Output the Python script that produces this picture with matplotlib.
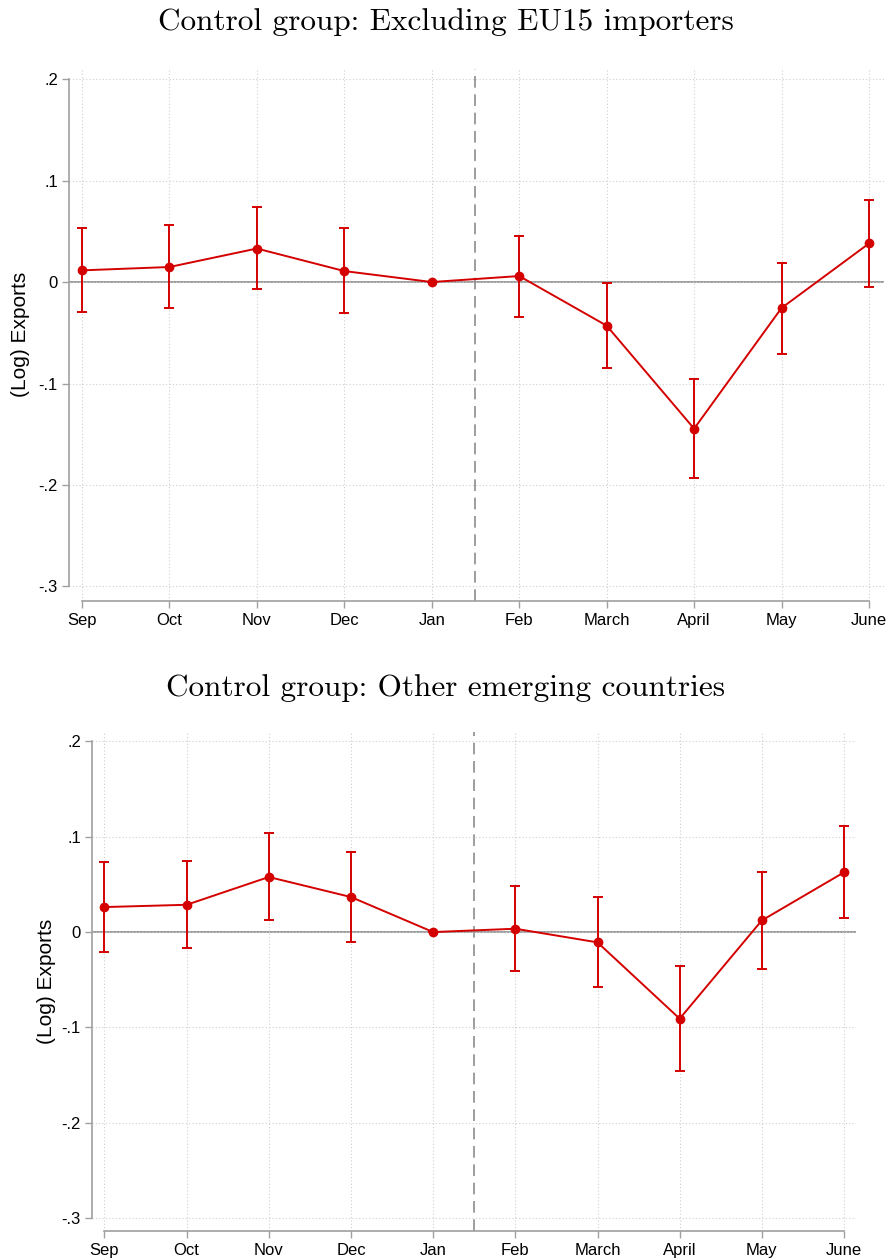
import numpy as np
import matplotlib.pyplot as plt

months = ["Sep", "Oct", "Nov", "Dec", "Jan", "Feb", "March", "April", "May", "June"]

# Control group: Excluding EU15 importers
eu_coef = [0.0115, 0.0148, 0.033, 0.0108, 0.0, 0.0059, -0.043, -0.1445, -0.0256, 0.038]
eu_hi = [0.0535, 0.0558, 0.074, 0.0529, 0.0, 0.0456, -0.0007, -0.0955, 0.019, 0.081]
eu_lo = [-0.030, -0.0256, -0.0072, -0.031, 0.0, -0.034, -0.085, -0.193, -0.071, -0.005]

# Control group: Other emerging countries
em_coef = [0.0262, 0.0286, 0.0577, 0.0367, 0.0, 0.0035, -0.0108, -0.0908, 0.0122, 0.0626]
em_hi = [0.073, 0.0744, 0.1034, 0.0835, 0.0, 0.0479, 0.0367, -0.0353, 0.0632, 0.1108]
em_lo = [-0.0213, -0.0164, 0.0126, -0.0101, 0.0, -0.0409, -0.0577, -0.1457, -0.0388, 0.015]

yticks = [-0.3, -0.2, -0.1, 0.0, 0.1, 0.2]
ytick_labels = ["-.3", "-.2", "-.1", "0", ".1", ".2"]

RED = "#d40000"
GRAY = "#8c8c8c"
W, H = 891, 1259

plt.rcParams['font.family'] = ['Liberation Sans', 'DejaVu Sans']


def panel(fig, box, coef, lo, hi, title, title_y, ylabel_x):
    left, right, top, bottom = box
    ax = fig.add_axes([left / W, 1 - bottom / H, (right - left) / W, (bottom - top) / H])
    x = np.arange(len(months))
    coef = np.array(coef)
    err = np.vstack([coef - np.array(lo), np.array(hi) - coef])

    ax.axhline(0, color=GRAY, lw=1.2, zorder=1)
    ax.axvline(4.5, color=GRAY, lw=1.2, ls=(0, (7, 4)), zorder=1)
    ax.errorbar(x, coef, yerr=err, color=RED, lw=1.4, marker="o", ms=6,
                capsize=3.5, capthick=1.4, elinewidth=1.4, zorder=3)

    ax.set_xticks(x)
    ax.set_xticklabels(months, fontsize=12)
    ax.set_yticks(yticks)
    ax.set_yticklabels(ytick_labels, fontsize=12)
    ax.grid(True, color="#cfcfcf", ls=(0, (1, 2)), lw=0.8, zorder=0)

    for s in ["top", "right"]:
        ax.spines[s].set_visible(False)
    ax.spines["left"].set_bounds(-0.3, 0.2)
    ax.spines["bottom"].set_bounds(0, 9)
    for s in ["left", "bottom"]:
        ax.spines[s].set_color("#a0a0a0")
        ax.spines[s].set_linewidth(1.2)
    ax.tick_params(axis="both", colors="#a0a0a0", labelcolor="black", length=5, width=1)
    ax.tick_params(axis="y", pad=3)
    ax.tick_params(axis="x", pad=4)

    fig.text(0.5, 1 - title_y / H, title, ha="center", va="center",
             fontsize=22.5, family="cmr10")
    fig.text(ylabel_x / W, 1 - (top + bottom) / 2 / H, "(Log) Exports",
             rotation=90, ha="center", va="center", fontsize=15)
    return ax


fig = plt.figure(figsize=(W / 100, H / 100), dpi=100)

ax1 = panel(fig, (69, 884, 68.9, 600.7), eu_coef, eu_lo, eu_hi,
            "Control group: Excluding EU15 importers", 22, 21)
ax1.set_xlim(-13 / 87.4, 9 + 15 / 87.4)
ax1.set_ylim(-0.314, 0.21)

ax2 = panel(fig, (92, 856, 731.7, 1230.7), em_coef, em_lo, em_hi,
            "Control group: Other emerging countries", 688, 47)
ax2.set_xlim(-12.5 / 82.2, 9 + 12 / 82.2)
ax2.set_ylim(-0.313, 0.21)

fig.savefig("out.png", dpi=100)
